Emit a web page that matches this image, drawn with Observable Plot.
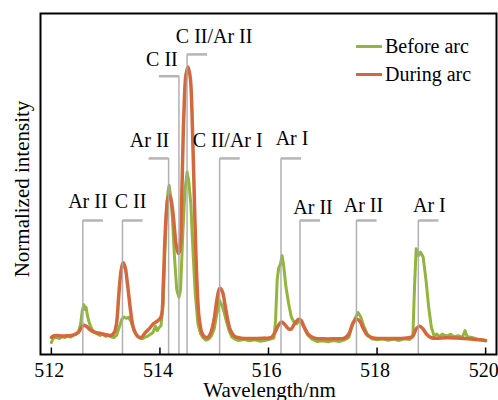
<!DOCTYPE html>
<html><head><meta charset="utf-8">
<script src="https://cdn.jsdelivr.net/npm/d3@7"></script>
<script src="https://cdn.jsdelivr.net/npm/@observablehq/plot@0.6"></script>
<style>
body{margin:0;background:#fff;}
#wrap{position:relative;width:498px;height:400px;font-family:'Liberation Serif';}
.leg{position:absolute;left:356px;font-size:20px;line-height:20px;display:flex;align-items:center;color:#000;white-space:nowrap;font-family:'Liberation Serif';}
.leg .sw{display:inline-block;width:26px;height:3px;margin-right:3px;}
</style></head><body><div id="wrap"></div>
<script>
// ---- data ----
const greenWl = [512.00,512.03,512.06,512.10,512.15,512.20,512.25,512.30,512.35,512.40,512.45,512.50,512.54,512.57,512.60,512.62,512.64,512.67,512.70,512.75,512.80,512.85,512.90,512.95,513.00,513.05,513.10,513.15,513.20,513.25,513.30,513.34,513.38,513.42,513.47,513.52,513.57,513.62,513.67,513.72,513.77,513.82,513.87,513.92,513.95,513.98,514.02,514.06,514.09,514.12,514.15,514.17,514.20,514.23,514.27,514.31,514.35,514.38,514.42,514.46,514.50,514.53,514.57,514.61,514.65,514.70,514.75,514.80,514.85,514.90,514.95,515.00,515.05,515.10,515.14,515.18,515.22,515.27,515.32,515.38,515.45,515.55,515.65,515.75,515.85,515.95,516.05,516.10,516.13,516.16,516.19,516.22,516.25,516.28,516.32,516.37,516.42,516.47,516.52,516.56,516.60,516.65,516.72,516.80,516.90,517.00,517.10,517.20,517.30,517.40,517.48,517.54,517.60,517.65,517.70,517.75,517.82,517.90,518.00,518.10,518.20,518.30,518.40,518.50,518.60,518.66,518.69,518.72,518.76,518.80,518.85,518.90,518.95,519.00,519.05,519.10,519.15,519.20,519.28,519.35,519.42,519.50,519.57,519.62,519.66,519.75,519.85,519.95,520.00];
const greenVal = [3.5,4.6,4.9,5.0,4.7,5.2,5.0,5.4,5.1,5.6,5.9,6.6,9.0,13.0,14.6,13.2,13.8,11.0,9.2,7.3,6.5,6.0,5.6,6.0,5.3,5.6,5.2,5.0,5.6,8.0,10.4,11.0,10.6,10.9,9.6,7.2,5.8,4.9,4.6,5.0,5.3,5.9,6.4,8.3,7.0,7.8,8.5,15,30,42,48,49.6,46,40,28,19,16.8,19,35,48,53.5,51,44,30,18,9,6,4.8,4.2,4.5,5.5,7.5,12,15.8,14.5,12.5,10,7.2,5.2,4.5,4.1,4.4,4.0,4.3,3.9,4.2,4.6,4.8,10,22,25.5,26.5,29,26,20,15,11,9.5,9.0,9.8,9.5,8.0,5.8,4.5,3.8,4.0,3.7,4.1,3.8,4.3,5.0,8.5,10.8,12.3,11.0,8.5,6.0,4.6,4.3,4.6,4.2,4.5,4.1,4.6,4.4,5.5,20,31,29,30,28.5,22,14,8,5.5,6.0,5.2,6.0,5.4,5.9,5.2,5.5,5.0,7.0,5.2,5.0,4.5,4.3,4.0];
const orangeWl = [512.00,512.05,512.10,512.20,512.30,512.40,512.50,512.55,512.60,512.65,512.72,512.80,512.90,513.00,513.10,513.16,513.20,513.24,513.28,513.32,513.36,513.40,513.45,513.50,513.55,513.60,513.66,513.72,513.80,513.88,513.95,514.02,514.06,514.09,514.12,514.15,514.18,514.21,514.25,514.30,514.34,514.37,514.40,514.44,514.48,514.52,514.56,514.60,514.64,514.68,514.72,514.77,514.82,514.88,514.94,515.00,515.05,515.10,515.15,515.20,515.25,515.30,515.38,515.50,515.70,515.90,516.05,516.12,516.18,516.24,516.30,516.37,516.42,516.48,516.55,516.60,516.66,516.74,516.85,517.00,517.20,517.40,517.48,517.55,517.62,517.68,517.75,517.83,517.95,518.20,518.50,518.65,518.72,518.78,518.84,518.92,519.00,519.30,519.60,520.00];
const orangeVal = [5.0,5.5,5.6,5.4,5.5,5.7,6.5,7.8,8.6,8.2,7.2,6.5,6.2,5.8,5.6,6.5,9,17,24,27,25.5,21,14,8.5,6.2,5.2,5.0,6.2,7.5,9.0,9.8,11,20,33,42,46,46.6,45,40,32,29.6,31,45,70,82,84.3,81,66,42,22,11,6.5,5.2,5.0,6.5,10.5,16,19.4,18.5,14.5,10,7,5.3,4.8,4.7,4.8,5.0,6.5,8.5,9.5,8.8,7.5,7.5,9,10.3,10.0,8.0,5.8,4.8,4.6,4.6,4.8,6,9,10.4,9.8,7.5,5.5,4.8,4.7,4.8,5.2,7.5,8.3,7.6,5.8,4.9,4.9,4.7,4.1];
const lineWl = [512.58,513.31,514.16,514.35,514.50,515.10,516.23,516.58,517.62,518.76];
const lineTop = [39.3,39.3,57.5,81.6,88.0,57.5,57.5,39.3,39.3,39.3];
const lineLabel = ["Ar II","C II","Ar II","C II","C II/Ar II","C II/Ar I","Ar I","Ar II","Ar II","Ar I"];
const lineSide = [1,1,-1,-1,1,1,1,1,1,1];
const tickValues = [512,514,516,518,520];
const seriesNames = ["Before arc","During arc"];
const xLabel = "Wavelength/nm";
const yLabel = "Normalized intensity";

// ---- layout (not data) ----
const labelDx = [-5,-2,-9,-7,17,-2,1,3,-3,1];
const labelGap = [12,12,11,10,11,11,13,6,8,8];
const GREEN = "#93b53e", ORANGE = "#d2683b";
const FONT = "Liberation Serif";

const green = greenWl.map((w,i)=>({wl:w, v:greenVal[i]}));
const orange = orangeWl.map((w,i)=>({wl:w, v:orangeVal[i]}));
const lines = lineWl.map((w,i)=>({wl:w, top:lineTop[i], label:lineLabel[i], side:lineSide[i], dx:labelDx[i], gap:labelGap[i]}));
const brk = 0.37;

const marks = [
  Plot.line(green, {x:"wl", y:"v", stroke:GREEN, strokeWidth:3, curve:"linear"}),
  Plot.line(orange, {x:"wl", y:"v", stroke:ORANGE, strokeWidth:3.5, curve:"catmull-rom"}),
  Plot.ruleX(lines, {x:"wl", y1:0, y2:"top", stroke:"#a9a9a9", strokeWidth:1.5, strokeOpacity:0.9}),
  Plot.link(lines, {x1:"wl", x2:d=>d.wl + d.side*brk, y1:"top", y2:"top", stroke:"#b5b5b5", strokeWidth:2.5})
];
lines.forEach(l=>{
  marks.push(Plot.text([l], {x:d=>d.wl + d.side*brk/2, y:"top", text:"label", dx:l.dx, dy:-(l.gap+6.4), fontSize:20, fontFamily:FONT, fill:"#000"}));
});
marks.push(
  Plot.ruleX(tickValues, {x:d=>d, y1:0, y2:1.9, stroke:"#000", strokeWidth:1.5}),
  Plot.axisX({ticks:tickValues, tickSize:0, tickPadding:8, dx:-2, tickFormat:d=>String(d), fontSize:20, fontFamily:FONT, label:null}),
  Plot.text([xLabel], {frameAnchor:"bottom", textAnchor:"middle", lineAnchor:"bottom", dx:1, dy:42, fontSize:21, fontFamily:FONT, fill:"#000"}),
  Plot.text([yLabel], {frameAnchor:"left", textAnchor:"middle", rotate:-90, dx:-18, dy:5, fontSize:21, fontFamily:FONT, fill:"#000"}),
  Plot.frame({stroke:"#000", strokeWidth:2})
);

const plot = Plot.plot({
  width:498, height:400,
  marginLeft:40, marginRight:2, marginTop:13, marginBottom:46,
  style:{fontFamily:FONT, fontSize:"20px", color:"#000", background:"#fff"},
  x:{domain:[511.8,520.2]},
  y:{domain:[0,100], axis:null},
  marks
});
const wrap = document.getElementById("wrap");
wrap.appendChild(plot);
const colors = [GREEN, ORANGE];
seriesNames.forEach((n,i)=>{
  const d = document.createElement("div");
  d.className = "leg";
  d.style.top = (36 + i*28) + "px";
  d.innerHTML = `<span class="sw" style="background:${colors[i]}"></span><span>${n}</span>`;
  wrap.appendChild(d);
});
</script></body></html>
